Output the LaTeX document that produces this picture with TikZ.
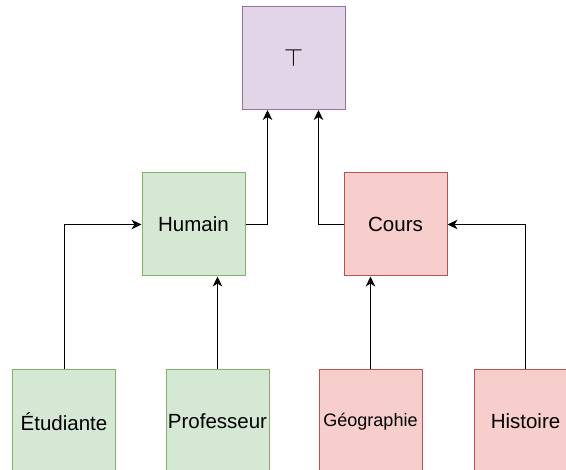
\documentclass[tikz,border=0pt]{standalone}
\usepackage{fontspec}
\setmainfont{Liberation Sans}
\usetikzlibrary{arrows.meta}
\definecolor{topfill}{HTML}{E1D5E7}
\definecolor{topline}{HTML}{9673A6}
\definecolor{greenfill}{HTML}{D5E8D4}
\definecolor{greenline}{HTML}{82B366}
\definecolor{redfill}{HTML}{F8CECC}
\definecolor{redline}{HTML}{B85450}
\tikzset{
  box/.style={draw, line width=1pt, minimum width=103pt, minimum height=103pt,
    inner sep=0pt, align=center, font=\fontsize{20.5}{24}\selectfont},
  topbox/.style={box, fill=topfill, draw=topline},
  greenbox/.style={box, fill=greenfill, draw=greenline},
  redbox/.style={box, fill=redfill, draw=redline},
  link/.style={draw=black, line width=1pt, -{Stealth[length=10pt,width=9.5pt,inset=3pt]}}
}
\begin{document}
\begin{tikzpicture}[x=1pt,y=-1pt]
  \useasboundingbox (0,0) rectangle (566,470);
  \clip (0,0) rectangle (566,470);
  % lattice top
  \node[topbox] (top) at (293.5,58) {\fontsize{30}{30}\selectfont$\top$};
  % middle level
  \node[greenbox] (hum) at (193.5,224.5) {Humain};
  \node[redbox] (cours) at (395.5,224.5) {Cours};
  % bottom level
  \node[greenbox] (etu) at (64,421.5) {Étudiante};
  \node[greenbox] (prof) at (217.5,421.5) {Professeur};
  \node[redbox] (geo) at (370.5,421.5) {\fontsize{18}{21}\selectfont Géographie};
  \node[redbox] (his) at (525.5,421.5) {Histoire};
  % connectors
  \draw[link] (hum.east) -| ([xshift=-26pt]top.south);
  \draw[link] (cours.west) -| ([xshift=25pt]top.south);
  \draw[link] (etu.north) |- (hum.west);
  \draw[link] (prof.north) -- (prof.north |- hum.south);
  \draw[link] (geo.north) -- (geo.north |- cours.south);
  \draw[link] (his.north) |- (cours.east);
\end{tikzpicture}
\end{document}
